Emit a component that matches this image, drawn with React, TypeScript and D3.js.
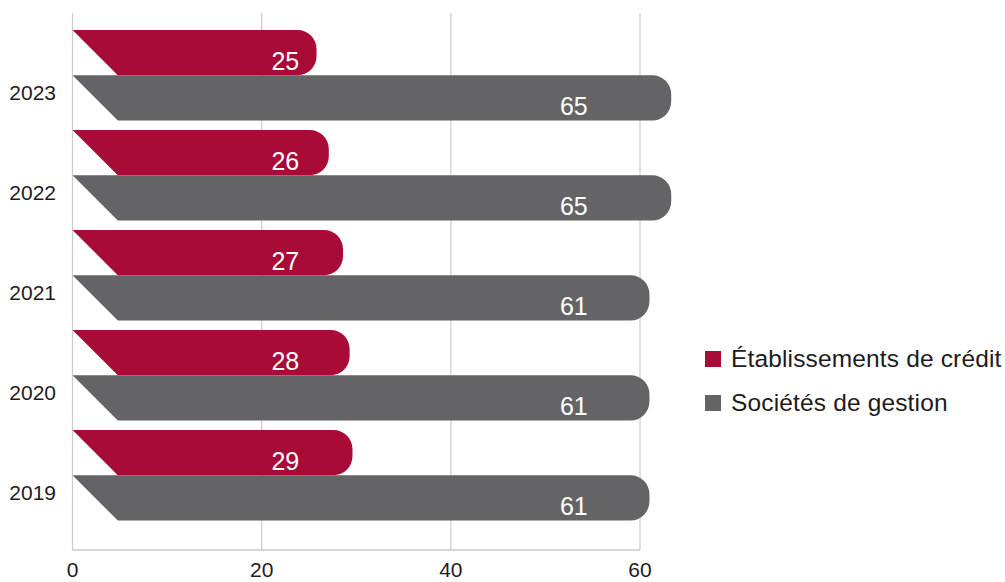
import React from "react";
import * as d3 from "d3";

const years = ["2023", "2022", "2021", "2020", "2019"];
const seriesNames = ["Établissements de crédit", "Sociétés de gestion"];
// displayed values
const creditLabels = [25, 26, 27, 28, 29];
const gestionLabels = [65, 65, 61, 61, 61];
// bar lengths as drawn in the picture
const creditBars = [25.8, 27.1, 28.6, 29.3, 29.6];
const gestionBars = [63.3, 63.3, 61.0, 61.0, 61.0];
const xTicks = [0, 20, 40, 60];

const COLORS = ["#a80b37", "#646466"];
const LABEL_AT = [22.5, 53.0];

const W = 1005;
const H = 582;
const FONT = "'Liberation Sans', Arial, Helvetica, sans-serif";

function barPath(x0: number, x1: number, top: number, h: number, r: number) {
  const bottom = top + h;
  return [
    `M${x0},${top}`,
    `L${x1 - r},${top}`,
    `A${r},${r} 0 0 1 ${x1},${top + r}`,
    `L${x1},${bottom - r}`,
    `A${r},${r} 0 0 1 ${x1 - r},${bottom}`,
    `L${x0 + h},${bottom}`,
    "Z",
  ].join(" ");
}

export default function App() {
  const x = d3.scaleLinear().domain([0, 60]).range([72.5, 640]);
  const y = d3.scaleBand<string>().domain(years).range([30, 530]).paddingInner(0);
  const barH = 45.3;
  const r = 19;
  const gridTop = 13;
  const gridBottom = 550;

  const series = [
    { bars: creditBars, labels: creditLabels },
    { bars: gestionBars, labels: gestionLabels },
  ];

  return (
    <svg
      width={W}
      height={H}
      style={{ position: "absolute", left: 0, top: 0, background: "#fff" }}
      fontFamily={FONT}
    >
      {xTicks.map((t) => (
        <line key={t} x1={x(t)} x2={x(t)} y1={gridTop} y2={gridBottom} stroke="#cccccc" strokeWidth={1.2} />
      ))}
      <line x1={x(0)} x2={x(60)} y1={gridBottom} y2={gridBottom} stroke="#cccccc" strokeWidth={1.4} />
      {xTicks.map((t) => (
        <text key={t} x={x(t)} y={577} fontSize={21} textAnchor="middle" fill="#1f1b1c">
          {t}
        </text>
      ))}
      {years.map((yr, i) => {
        const top = y(yr)!;
        return (
          <g key={yr}>
            <text x={56} y={top + 70} fontSize={21} textAnchor="end" fill="#1f1b1c">
              {yr}
            </text>
            {series.map((s, k) => {
              const bt = top + k * barH;
              return (
                <g key={k}>
                  <path d={barPath(x(0), x(s.bars[i]), bt, barH, r)} fill={COLORS[k]} />
                  <text
                    x={x(LABEL_AT[k])}
                    y={bt + barH - 5.5}
                    fontSize={25}
                    textAnchor="middle"
                    fill="#ffffff"
                  >
                    {s.labels[i]}
                  </text>
                </g>
              );
            })}
          </g>
        );
      })}
      {seriesNames.map((name, k) => (
        <g key={name}>
          <rect x={705} y={351 + k * 44} width={16} height={16} fill={COLORS[k]} />
          <text x={731} y={367 + k * 44} fontSize={24.5} letterSpacing={0.15} fill="#1f1b1c">
            {name}
          </text>
        </g>
      ))}
    </svg>
  );
}
